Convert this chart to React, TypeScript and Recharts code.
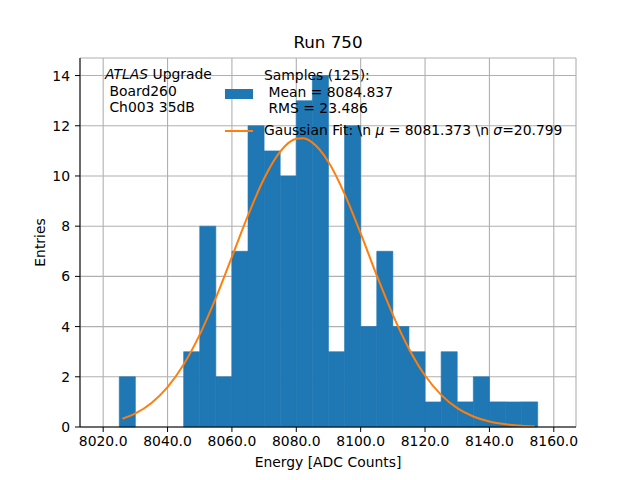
import {
  CartesianGrid,
  ComposedChart,
  Line,
  ReferenceArea,
  XAxis,
  YAxis,
} from "recharts";

// histogram bin edges (width 5) and entries per bin
const binEdges = [
  8020, 8025, 8030, 8035, 8040, 8045, 8050, 8055, 8060, 8065, 8070, 8075, 8080, 8085,
  8090, 8095, 8100, 8105, 8110, 8115, 8120, 8125, 8130, 8135, 8140, 8145, 8150, 8155, 8160,
];
const binCounts = [
  0, 2, 0, 0, 0, 3, 8, 2, 7, 12, 11, 10, 13, 14,
  3, 12, 4, 7, 4, 3, 1, 3, 1, 2, 1, 1, 1, 0,
];

// gaussian fit curve
const fitX = [
  8026, 8030, 8035, 8040, 8045, 8050, 8055, 8060, 8065, 8070, 8075, 8080, 8082, 8085,
  8090, 8095, 8100, 8105, 8110, 8115, 8120, 8125, 8130, 8135, 8140, 8145, 8150, 8154,
];
const fitY = [
  0.33, 0.54, 0.96, 1.59, 2.49, 3.68, 5.14, 6.78, 8.43, 9.9, 10.97, 11.48, 11.5, 11.33,
  10.56, 9.29, 7.71, 6.04, 4.47, 3.12, 2.05, 1.28, 0.75, 0.42, 0.22, 0.11, 0.05, 0.03,
];

const xTicks = [8020, 8040, 8060, 8080, 8100, 8120, 8140, 8160];
const yTicks = [0, 2, 4, 6, 8, 10, 12, 14];

const fitData = fitX.map((x, i) => ({ x, y: fitY[i] }));
const bins = binCounts.map((count, i) => ({ x1: binEdges[i], x2: binEdges[i + 1], count }));

const FONT = "'DejaVu Sans', sans-serif";
const BLUE = "#1f77b4";
const ORANGE = "#ff7f0e";
const xDomain = [8012.8, 8166.9];
const yDomain = [0, 14.7];

const txt: React.CSSProperties = {
  position: "absolute",
  fontFamily: FONT,
  fontSize: 13.9,
  lineHeight: "16.7px",
  whiteSpace: "pre",
  color: "#000",
};

export default function App() {
  const tick = { fill: "#000", fontSize: 13.9, fontFamily: FONT };
  return (
    <div style={{ position: "absolute", left: 0, top: 0, width: 640, height: 480, background: "#fff" }}>
      <ComposedChart width={640} height={480} margin={{ top: 58, right: 64, left: 0, bottom: 0 }}>
        {bins
          .filter((b) => b.count > 0)
          .map((b) => (
            <ReferenceArea
              key={b.x1}
              x1={b.x1}
              x2={b.x2}
              y1={0}
              y2={b.count}
              fill={BLUE}
              fillOpacity={1}
              stroke={BLUE}
              strokeWidth={0.6}
            />
          ))}
        <CartesianGrid stroke="#b0b0b0" strokeWidth={1.1} />
        <XAxis
          dataKey="x"
          type="number"
          domain={xDomain}
          allowDataOverflow
          ticks={xTicks}
          tickFormatter={(v) => v.toFixed(1)}
          tick={tick}
          stroke="#000"
          tickSize={5}
          tickMargin={4}
          height={53}
          label={{
            value: "Energy [ADC Counts]",
            position: "insideBottom",
            offset: 13,
            style: { fill: "#000", fontSize: 13.9, fontFamily: FONT },
          }}
        />
        <XAxis xAxisId="top" orientation="top" type="number" domain={xDomain} allowDataOverflow
          tick={false} tickLine={false} height={0} stroke="#000" />
        <YAxis
          type="number"
          domain={yDomain}
          allowDataOverflow
          ticks={yTicks}
          tick={tick}
          stroke="#000"
          tickSize={5}
          tickMargin={5}
          width={80}
          label={{
            value: "Entries",
            angle: -90,
            position: "insideLeft",
            offset: 40,
            style: { fill: "#000", fontSize: 13.9, fontFamily: FONT, textAnchor: "middle" },
          }}
        />
        <YAxis yAxisId="right" orientation="right" type="number" domain={yDomain} allowDataOverflow
          tick={false} tickLine={false} width={0} stroke="#000" />
        <Line
          data={fitData}
          dataKey="y"
          type="monotone"
          stroke={ORANGE}
          strokeWidth={2}
          dot={false}
          isAnimationActive={false}
        />
      </ComposedChart>

      <div style={{ ...txt, fontSize: 16.7, left: 0, width: 656, top: 34, textAlign: "center" }}>Run 750</div>

      <div style={{ ...txt, left: 105, top: 66 }}>
        <i>ATLAS</i> Upgrade{"\n"} Board260{"\n"} Ch003 35dB
      </div>

      <div style={{ position: "absolute", left: 225, top: 89, width: 28, height: 10, background: BLUE }} />
      <div style={{ ...txt, left: 264, top: 67 }}>
        {"Samples (125):\n Mean = 8084.837\n RMS = 23.486"}
      </div>
      <div style={{ position: "absolute", left: 225, top: 130, width: 28, height: 2, background: ORANGE }} />
      <div style={{ ...txt, left: 264, top: 122 }}>
        Gaussian Fit: \n <i>μ</i> = 8081.373 \n <i>σ</i>=20.799
      </div>
    </div>
  );
}
